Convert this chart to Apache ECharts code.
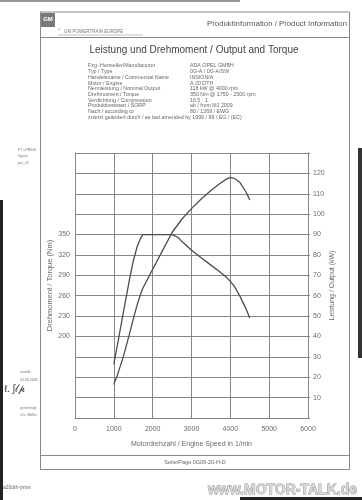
<!DOCTYPE html>
<html>
<head>
<meta charset="utf-8">
<script src="https://cdn.jsdelivr.net/npm/echarts@6/dist/echarts.min.js"></script>
<style>
html,body{margin:0;padding:0;background:#fff;}
#c{width:362px;height:500px;}
</style>
</head>
<body>
<div id="c"></div>
<script>
// ---- data ----
var rpmTicks = [0, 1000, 2000, 3000, 4000, 5000, 6000];
var torqueRpm = [1000, 1100, 1250, 1400, 1500, 1600, 1700, 1750, 2000, 2250, 2500, 2650, 2750, 3000, 3250, 3500, 3750, 3900, 4000, 4100, 4250, 4400, 4500];
var torqueNm  = [159, 190, 237, 283, 311, 332, 346, 350, 350, 350, 350, 346, 340, 327, 316, 305, 294, 287, 281, 274, 259, 241, 227];
var powerRpm = [1000, 1100, 1250, 1400, 1500, 1600, 1700, 1750, 2000, 2250, 2500, 2750, 3000, 3250, 3500, 3750, 3900, 4000, 4100, 4250, 4400, 4500];
var powerKw  = [16.4, 21.5, 30.5, 41, 48.5, 55.5, 61.5, 63.8, 73, 82, 91, 97.5, 102.7, 107.4, 111.6, 115.3, 117.2, 118, 117.6, 115.5, 111, 107];
var torqueLabels = [200, 230, 260, 290, 320, 350];
var powerLabels = [10, 20, 30, 40, 50, 60, 70, 80, 90, 100, 110, 120];

var infoLeft = ["Fzg.-Hersteller/Manufacturer", "Typ / Type", "Handelsname / Commercial Name", "Motor / Engine",
  "Nennleistung / Nominal Output", "Drehmoment / Torque", "Verdichtung / Compression", "Produktionsstart / SORP",
  "Nach / according to"];
var infoRight = ["ADA OPEL GMBH", "0G-A / 0G-A/SW", "INSIGNIA", "A 20 DTH", "118 kW @ 4000 rpm",
  "350 Nm @ 1750 - 2500 rpm", "16.5 : 1", "ab / from MJ 2009", "80 / 1269 / EWG"];
var infoLast = "zuletzt geändert durch / as last amended by 1999 / 99 / EG / (EC)";

var FONT = "Liberation Sans, Arial, sans-serif";
var GRID = "#858585";
var TXT = "#6a6a6a";
var CURVE = "#4d4d4d";

function pairs(xs, ys) { return xs.map(function (x, i) { return [x, ys[i]]; }); }

var g = [];
function txt(x, y, s, size, opt) {
  opt = opt || {};
  g.push({ type: 'text', x: x, y: y, silent: true, z: 10,
    style: { text: s, font: (opt.bold ? 'bold ' : '') + size + 'px ' + FONT, fill: opt.fill || TXT,
      textAlign: opt.align || 'left', textVerticalAlign: 'middle', stroke: opt.stroke, lineWidth: opt.lw || 0 } });
}
function line(x1, y1, x2, y2, c, w) {
  g.push({ type: 'line', silent: true, z: 5, shape: { x1: x1, y1: y1, x2: x2, y2: y2 }, style: { stroke: c || '#777', lineWidth: w || 1 } });
}
function rect(x, y, w, h, fill) {
  g.push({ type: 'rect', silent: true, z: 4, shape: { x: x, y: y, width: w, height: h }, style: { fill: fill } });
}

// scan edges
rect(0, 0, 240, 2, '#9a9a9a');
rect(0, 200, 3, 300, '#222');
rect(358, 148, 4, 210, '#333');
rect(240, 497, 122, 3, '#222');

// document frame
line(40, 12, 349, 12, '#8a8a8a', 1);
line(40.5, 12, 40.5, 470, '#8a8a8a', 1);
line(349.5, 12, 349.5, 470, '#8a8a8a', 1);
line(40, 469.5, 349, 469.5, '#8a8a8a', 1);
line(40, 37.5, 349, 37.5, '#8a8a8a', 1);
line(40, 455.5, 349, 455.5, '#8a8a8a', 1);
line(58, 35, 143, 35, '#999', 0.6);

// header
rect(41, 13, 14, 14, '#7a7a7a');
txt(48, 19, 'GM', 6, { fill: '#fff', bold: true, align: 'center' });
txt(58, 30, '®', 3.5, { fill: '#888' });
txt(64, 32, 'GM POWERTRAIN EUROPE', 4.5, { fill: '#777' });
txt(347, 24, 'Produktinformation / Product Information', 7.8, { fill: '#555', align: 'right' });
txt(194, 50, 'Leistung und Drehmoment / Output and Torque', 10, { fill: '#444', align: 'center' });

// info block
for (var i = 0; i < infoLeft.length; i++) {
  txt(88, 66 + i * 5.7, infoLeft[i], 5.3, { fill: '#666' });
  txt(190, 66 + i * 5.7, infoRight[i], 5.3, { fill: '#666' });
}
txt(88, 66 + 9 * 5.7, infoLast, 5.3, { fill: '#666' });

// footer
txt(195, 462.5, 'Seite/Page 0G09-20-H-D', 5.5, { fill: '#666', align: 'center' });
txt(3, 488, 'a20dth-prins', 5, { fill: '#666' });
txt(357, 490, 'www.MOTOR-TALK.de', 14, { fill: '#d8d8d8', stroke: '#8a8a8a', lw: 0.8, bold: true, align: 'right' });

// left margin notes
txt(18, 150, 'PT uPR046', 3.5, { fill: '#777' });
txt(18, 156.5, 'layout:', 3.5, { fill: '#777' });
txt(18, 163, 'pre_01', 3.5, { fill: '#777' });
txt(20, 372.5, 'erstellt:', 3.5, { fill: '#777' });
txt(20, 380, '03.08.2008', 3.5, { fill: '#777' });
txt(4, 389, 'ℓ. ʃ𝓁𝓅', 10, { fill: '#444' });
txt(20, 408, 'genehmigt:', 3.5, { fill: '#777' });
txt(20, 415.5, 'Chr. Müller', 3.5, { fill: '#777' });

var chart = echarts.init(document.getElementById('c'), null, { renderer: 'canvas' });
chart.setOption({
  animation: false,
  backgroundColor: '#ffffff',
  grid: { left: 75, right: 54, top: 153, bottom: 82, containLabel: false },
  xAxis: {
    type: 'value', min: 0, max: 6000, interval: 1000,
    name: 'Motordrehzahl / Engine Speed in 1/min', nameLocation: 'middle', nameGap: 23, nameMoveOverlap: false,
    nameTextStyle: { fontFamily: FONT, fontSize: 7, color: TXT },
    axisLine: { show: true, lineStyle: { color: GRID, width: 1 } },
    axisTick: { show: false },
    axisLabel: { fontFamily: FONT, fontSize: 7, color: TXT, margin: 8,
      formatter: function (v) { return rpmTicks.indexOf(v) >= 0 ? String(v) : ''; } },
    splitLine: { show: true, lineStyle: { color: GRID, width: 1 } }
  },
  yAxis: [{
    type: 'value', position: 'left', min: 80, max: 470, interval: 10,
    name: 'Drehmoment / Torque (Nm)', nameLocation: 'middle', nameGap: 21, nameRotate: 90, nameMoveOverlap: false,
    nameTextStyle: { fontFamily: FONT, fontSize: 7.5, color: TXT },
    axisLine: { show: true, lineStyle: { color: GRID, width: 1 } },
    axisTick: { show: false },
    axisLabel: { fontFamily: FONT, fontSize: 7, color: TXT, margin: 5,
      formatter: function (v) { return torqueLabels.indexOf(v) >= 0 ? String(v) : ''; } },
    splitLine: { show: false }
  }, {
    type: 'value', position: 'right', min: 0, max: 130, interval: 10,
    name: 'Leistung / Output (kW)', nameLocation: 'middle', nameGap: 21, nameRotate: 90, nameMoveOverlap: false,
    nameTextStyle: { fontFamily: FONT, fontSize: 7, color: TXT },
    axisLine: { show: true, lineStyle: { color: GRID, width: 1 } },
    axisTick: { show: true, length: 2, lineStyle: { color: GRID } },
    axisLabel: { fontFamily: FONT, fontSize: 7, color: TXT, margin: 5,
      formatter: function (v) { return powerLabels.indexOf(v) >= 0 ? String(v) : ''; } },
    splitLine: { show: true, lineStyle: { color: GRID, width: 1 } }
  }],
  series: [{
    type: 'line', yAxisIndex: 0, data: pairs(torqueRpm, torqueNm), smooth: false, symbol: 'none',
    lineStyle: { color: CURVE, width: 1.3 }, z: 3
  }, {
    type: 'line', yAxisIndex: 1, data: pairs(powerRpm, powerKw), smooth: false, symbol: 'none',
    lineStyle: { color: CURVE, width: 1.3 }, z: 3
  }],
  graphic: g
});
</script>
</body>
</html>
